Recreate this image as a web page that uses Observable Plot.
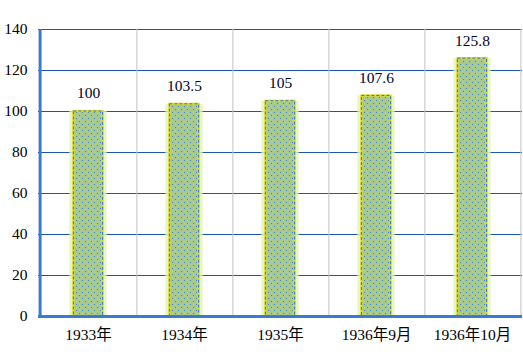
<!DOCTYPE html>
<html>
<head>
<meta charset="utf-8">
<script src="https://cdn.jsdelivr.net/npm/d3@7"></script>
<script src="https://cdn.jsdelivr.net/npm/@observablehq/plot@0.6"></script>
<style>
  html, body { margin: 0; padding: 0; background: #fff; }
  #chart svg { display: block; }
</style>
</head>
<body>
<div id="chart"></div>
<script>
const categories = ["1933年", "1934年", "1935年", "1936年9月", "1936年10月"];
const values = [100, 103.5, 105, 107.6, 125.8];
const yTicks = [0, 20, 40, 60, 80, 100, 120, 140];

const data = categories.map((c, i) => ({ cat: c, value: values[i] }));

const W = 523, H = 355;
const mL = 38, mR = 1, mT = 29, mB = 39;
const bandW = (W - mL - mR) / categories.length;
const inset = (bandW - 30) / 2;

const chart = Plot.plot({
  width: W,
  height: H,
  marginLeft: mL,
  marginRight: mR,
  marginTop: mT,
  marginBottom: mB,
  style: { background: "#fff", overflow: "visible" },
  x: { domain: categories, padding: 0, label: null, axis: null },
  y: { domain: [0, 140], label: null, axis: null },
  marks: [
    Plot.ruleY(yTicks.filter(d => d > 0), { stroke: "#1a56b8", strokeWidth: 1 }),
    Plot.ruleX(categories, { x: d => d, dx: bandW / 2, stroke: "#c0c0c0", strokeWidth: 1 }),
    Plot.barY(data, { x: "cat", y: "value", insetLeft: inset - 4, insetRight: inset - 4, fill: "#e4f2b0", fillOpacity: 0.8, ariaLabel: "glow" }),
    Plot.barY(data, { x: "cat", y: "value", insetLeft: inset, insetRight: inset, fill: "url(#dots)", stroke: "#e6dc20", strokeWidth: 2.2 }),
    Plot.barY(data, { x: "cat", y: "value", insetLeft: inset, insetRight: inset, fill: "none", stroke: "#2f74cc", strokeWidth: 1, strokeDasharray: "3,2" }),
    Plot.text(data, { x: "cat", y: "value", text: d => String(d.value), dy: -18, fill: "#000030", ariaLabel: "vlabels" }),
    Plot.axisX({ tickSize: 0, tickPadding: 12, label: null, fill: "#000" }),
    Plot.axisY({ ticks: yTicks, tickSize: 0, tickPadding: 11, label: null, fill: "#000" }),
    Plot.ruleX([0], { x: () => categories[0], dx: -bandW / 2, y1: 0, y2: 140, stroke: "#3a7bd0", strokeWidth: 3 }),
    Plot.ruleY([0], { stroke: "#3a7bd0", strokeWidth: 3 })
  ]
});

const svg = d3.select(chart);
svg.selectAll("text")
  .style("font-family", "'Liberation Serif', 'Noto Sans CJK SC', serif")
  .style("font-size", "15.5px");
const defs = svg.insert("defs", ":first-child");
const pat = defs.append("pattern").attr("id", "dots").attr("patternUnits", "userSpaceOnUse")
  .attr("width", 6).attr("height", 6);
pat.append("rect").attr("width", 6).attr("height", 6).attr("fill", "#a8c98c");
pat.append("rect").attr("x", 1).attr("y", 1).attr("width", 1).attr("height", 1).attr("fill", "#3f83d6");
pat.append("rect").attr("x", 4).attr("y", 4).attr("width", 1).attr("height", 1).attr("fill", "#3f83d6");
pat.append("rect").attr("x", 4).attr("y", 1).attr("width", 1).attr("height", 1).attr("fill", "#d8d040");
pat.append("rect").attr("x", 1).attr("y", 4).attr("width", 1).attr("height", 1).attr("fill", "#d8d040");
const f = defs.append("filter").attr("id", "glow").attr("x", "-50%").attr("y", "-20%").attr("width", "200%").attr("height", "140%");
f.append("feGaussianBlur").attr("stdDeviation", 5);
svg.select('g[aria-label="glow"]').attr("filter", "url(#glow)");

document.getElementById("chart").appendChild(chart);
</script>
</body>
</html>
